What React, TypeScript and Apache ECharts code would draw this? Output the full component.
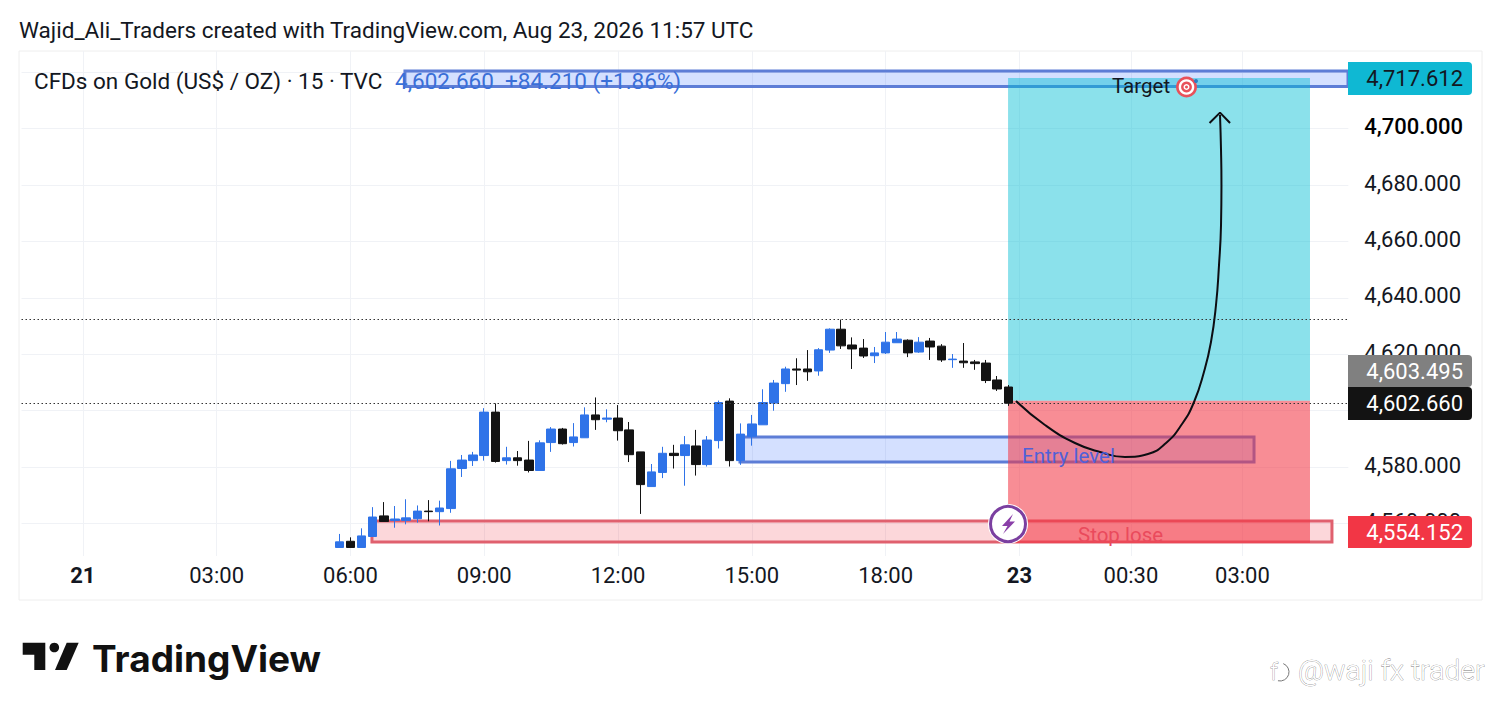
import React, { useEffect, useRef } from "react";
import * as echarts from "echarts";

const pad = (a: number[]) => a.map((v) => +(4000 + v).toFixed(2));
const opens = pad([551.5,553.7,551.5,555.4,562.7,561.1,561.1,561.7,564.4,564.2,565.3,579.5,582.3,584.1,599.5,582.3,583.3,582.5,578.8,588.7,593.5,588.7,590.4,598.5,597.0,597.4,593.2,585.4,573.1,578.1,584.9,584.1,587.5,580.9,589.4,603.4,582.3,590.9,595.0,602.7,609.6,614.8,614.8,614.1,621.5,628.9,623.3,622.2,619.5,620.5,624.1,625.0,620.8,624.7,622.9,618.1,617.6,617.3,616.9,610.9,608.4]);
const closes = pad([553.5,551.5,555.6,562.3,560.7,561.6,562.0,564.4,564.2,565.5,579.4,582.5,584.3,599.5,582.0,583.3,582.3,578.8,588.6,593.5,588.3,590.7,598.5,596.8,597.4,592.9,584.4,573.8,578.3,584.9,584.1,587.9,580.9,589.6,602.9,582.3,591.7,595.3,602.9,609.8,614.8,614.4,613.8,621.6,628.9,623.0,621.9,619.4,620.5,624.3,625.4,620.5,624.3,622.6,618.0,618.3,617.0,616.7,610.7,607.7,602.66]);
const lows = pad([551.5,551.5,551.5,555.4,560.7,558.5,559.7,560.3,560.8,559.3,563.8,576.5,580.4,582.3,581.6,580.9,580.5,578.1,578.8,585.4,588.0,587.3,590.4,593.2,595.9,589.4,581.8,563.4,573.1,576.1,579.5,573.4,577.0,580.2,586.6,580.2,580.8,587.6,595.0,600.0,606.7,609.1,610.6,612.4,620.5,621.9,614.8,618.7,616.9,620.1,624.1,619.0,620.5,618.0,617.3,615.2,615.2,614.5,609.8,607.0,601.7]);
const highs = pad([556.3,555.1,558.3,565.8,567.6,566.2,568.6,566.4,568.3,568.1,582.2,584.3,585.4,600.9,602.6,587.2,585.7,589.3,589.5,594.2,593.9,595.6,601.2,604.7,600.5,602.0,596.0,585.4,581.1,587.2,587.9,591.0,593.2,591.0,603.6,604.4,595.5,598.5,607.6,610.9,615.6,618.6,621.5,622.2,629.2,632.3,626.0,625.4,622.6,627.9,627.9,625.3,626.1,625.8,623.6,620.1,624.0,618.0,618.0,612.3,609.1]);

const leadingBars = 28;
const barCount = 119;
const timeTickIndex = [5, 17, 29, 41, 53, 65, 77, 89, 99, 109];
const timeTickLabels = ["21", "03:00", "06:00", "09:00", "12:00", "15:00", "18:00", "23", "00:30", "03:00"];
const boldTimes = ["21", "23"];
const priceTicks = [4560, 4580, 4600, 4620, 4640, 4660, 4680, 4700, 4720];
const priceLabels = [4560, 4580, 4620, 4640, 4660, 4680, 4700];

const targetBox = [[34.39, 118.97, 4720.46, 4714.95]];
const entryBox = [[64.44, 110.54, 4590.67, 4581.8]];
const stopBox = [[31.43, 117.53, 4560.9, 4553.4]];
const rewardZone = [[88.48, 115.56, 4717.98, 4603.495]];
const riskZone = [[88.48, 115.56, 4603.495, 4553.1]];

const curveBars = [89.19, 91.79, 94.48, 96.73, 98.97, 101.03, 102.65, 104.08, 105.16, 106.05, 106.68, 107.13, 107.4, 107.58, 107.62, 107.58, 107.49];
const curvePrices = [4603.44, 4594.93, 4588.55, 4585.36, 4583.59, 4584.65, 4588.55, 4595.28, 4603.09, 4613.73, 4624.36, 4637.48, 4651.67, 4665.85, 4680.04, 4692.45, 4704.86];
const arrowBars = [106.55, 107.49, 108.39];
const arrowPrices = [4702.0, 4705.7, 4702.0];

const dottedPrices = [4632.3, 4602.66];
const FONT = "Roboto";
const INK = "#131722";
const BOXBLUE = "#5d7dd6";

function zoneSeries(data: number[][], z: number, style: any) {
  return {
    type: "custom",
    xAxisIndex: 1,
    yAxisIndex: 0,
    z,
    silent: true,
    clip: false,
    data,
    encode: { x: [0, 1], y: [2, 3] },
    renderItem(_p: any, api: any) {
      const a = api.coord([api.value(0), api.value(2)]);
      const b = api.coord([api.value(1), api.value(3)]);
      return {
        type: "rect",
        shape: { x: a[0], y: a[1], width: b[0] - a[0], height: b[1] - a[1] },
        style,
      };
    },
  };
}

function tag(y: number, h: number, fill: string, text: string, color: string) {
  return [
    { type: "rect", z: 100, shape: { x: 1348, y, width: 124, height: h, r: [0, 4, 4, 0] }, style: { fill } },
    { type: "text", z: 101, x: 1463, y: y + h / 2, style: { text, fill: color, font: `22px ${FONT}`, align: "right", verticalAlign: "middle" } },
  ];
}

function label(x: number, y: number, text: string, fill: string, size = 22.5, z = 90) {
  return { type: "text", z, x, y, style: { text, fill, font: `${size}px ${FONT}`, verticalAlign: "middle" } };
}

export default function App() {
  const ref = useRef<HTMLDivElement>(null);
  useEffect(() => {
    const chart = echarts.init(ref.current!, null, { renderer: "svg" });
    const categories = Array.from({ length: barCount }, (_, i) => {
      const k = timeTickIndex.indexOf(i);
      return k >= 0 ? timeTickLabels[k] : " " + i;
    });
    const candles = [
      ...Array.from({ length: leadingBars }, () => ["-", "-", "-", "-"]),
      ...opens.map((o, i) => [o, closes[i], lows[i], highs[i]]),
    ];
    const isTick = (i: number) => timeTickIndex.includes(i);
    chart.setOption({
      animation: false,
      backgroundColor: "#ffffff",
      title: {
        text: "Wajid_Ali_Traders created with TradingView.com, Aug 23, 2026 11:57 UTC",
        left: 19,
        top: 18,
        padding: 0,
        textStyle: { fontFamily: FONT, fontSize: 22.5, fontWeight: 400, color: INK },
      },
      grid: { left: 21.5, top: 51, width: 1326.85, height: 505, containLabel: false },
      xAxis: [
        {
          type: "category",
          data: categories,
          boundaryGap: true,
          axisLine: { show: false },
          axisTick: { show: false },
          axisLabel: {
            interval: (i: number) => isTick(i),
            margin: 8,
            color: INK,
            fontFamily: FONT,
            fontSize: 22,
            hideOverlap: false,
            formatter: (v: string) => (boldTimes.includes(v) ? `{b|${v}}` : v),
            rich: { b: { fontFamily: FONT, fontSize: 22, fontWeight: 700, color: INK } },
          },
          splitLine: {
            show: true,
            alignWithLabel: true,
            interval: (i: number) => isTick(i),
            lineStyle: { color: "#f0f2f6", width: 1 },
          },
        },
        { type: "value", show: false, min: 0, max: barCount, splitLine: { show: false } },
      ],
      yAxis: {
        type: "value",
        position: "right",
        min: 4548.48,
        max: 4727.55,
        axisLine: { show: false },
        axisTick: { show: false, customValues: priceTicks },
        splitLine: { show: true, lineStyle: { color: "#f0f2f6", width: 1 } },
        axisLabel: {
          customValues: priceLabels,
          margin: 16,
          padding: [0, 0, 4, 0],
          color: INK,
          fontFamily: FONT,
          fontSize: 22,
          formatter: (v: number) => {
            const s = v.toLocaleString("en-US", { minimumFractionDigits: 3, maximumFractionDigits: 3 });
            return v === 4700 ? `{b|${s}}` : s;
          },
          rich: { b: { fontFamily: FONT, fontSize: 22, fontWeight: 500, color: "#000" } },
        },
      },
      series: [
        zoneSeries(targetBox, 1, { fill: "rgba(41,98,255,0.2)", stroke: BOXBLUE, lineWidth: 3 }),
        zoneSeries(entryBox, 1, { fill: "rgba(41,98,255,0.2)", stroke: BOXBLUE, lineWidth: 3 }),
        zoneSeries(stopBox, 1, { fill: "rgba(242,54,69,0.2)", stroke: "#e0606e", lineWidth: 3 }),
        zoneSeries(rewardZone, 2, { fill: "rgba(0,188,212,0.455)" }),
        zoneSeries(riskZone, 2, { fill: "rgba(242,54,69,0.57)" }),
        {
          type: "candlestick",
          xAxisIndex: 0,
          yAxisIndex: 0,
          z: 3,
          barWidth: 9,
          data: candles,
          itemStyle: { color: "#2f73e8", color0: "#131313", borderColor: "#2f73e8", borderColor0: "#131313", borderWidth: 1 },
          markLine: {
            silent: true,
            symbol: "none",
            label: { show: false },
            lineStyle: { type: [1.5, 2.5], color: "#333", width: 1 },
            data: dottedPrices.map((yAxis) => ({ yAxis })),
          },
        },
        {
          type: "line",
          xAxisIndex: 1,
          yAxisIndex: 0,
          z: 5,
          smooth: 0.5,
          showSymbol: false,
          silent: true,
          lineStyle: { color: "#0d0d12", width: 2 },
          data: curveBars.map((b, i) => [b, curvePrices[i]]),
        },
        {
          type: "line",
          xAxisIndex: 1,
          yAxisIndex: 0,
          z: 5,
          showSymbol: false,
          silent: true,
          lineStyle: { color: "#0d0d12", width: 2 },
          data: arrowBars.map((b, i) => [b, arrowPrices[i]]),
        },
      ],
      graphic: [
        { type: "rect", z: 0, shape: { x: 19, y: 51, width: 1463, height: 549 }, style: { fill: "none", stroke: "#eeeeee", lineWidth: 1 } },
        label(34, 81, "CFDs on Gold (US$ / OZ) · 15 · TVC", INK),
        label(395, 81, "4,602.660  +84.210 (+1.86%)", "#3a6fd8"),
        label(1112, 86, "Target", INK, 20.5),
        { type: "circle", z: 91, shape: { cx: 1186.5, cy: 87, r: 10.5 }, style: { fill: "#e8515a" } },
        { type: "circle", z: 91, shape: { cx: 1186.5, cy: 87, r: 7.8 }, style: { fill: "#fff" } },
        { type: "circle", z: 91, shape: { cx: 1186.5, cy: 87, r: 5.4 }, style: { fill: "#e8515a" } },
        { type: "circle", z: 91, shape: { cx: 1186.5, cy: 87, r: 3 }, style: { fill: "#fff" } },
        { type: "circle", z: 91, shape: { cx: 1186.5, cy: 87, r: 1.5 }, style: { fill: "#e8515a" } },
        { type: "circle", z: 91, shape: { cx: 1196, cy: 81, r: 2 }, style: { fill: "#2d7fc4" } },
        label(1022, 456, "Entry level", "#5060d8", 20.5),
        label(1078, 535, "Stop lose", "#ea4a5c", 20.5),
        { type: "circle", z: 92, shape: { cx: 1008, cy: 524, r: 20 }, style: { fill: "#fff" } },
        { type: "circle", z: 92, shape: { cx: 1008, cy: 524, r: 17.5 }, style: { fill: "#fff", stroke: "#7b3fa0", lineWidth: 3 } },
        { type: "polygon", z: 93, shape: { points: [[1013, 514], [1002, 526], [1007.5, 526], [1003, 534], [1015, 521.5], [1009.5, 521.5]] }, style: { fill: "#8a3fa8" } },
        ...tag(62, 33, "#0fb8d3", "4,717.612", INK),
        ...tag(355, 32, "#808080", "4,603.495", "#fff"),
        ...tag(387, 33, "#131313", "4,602.660", "#fff"),
        ...tag(516, 32, "#f23645", "4,554.152", "#fff"),
        { type: "polygon", z: 90, shape: { points: [[22.7, 642.7], [45.3, 642.7], [45.3, 670], [34.3, 670], [34.3, 654.7], [22.7, 654.7]] }, style: { fill: "#111" } },
        { type: "circle", z: 90, shape: { cx: 54.3, cy: 647.5, r: 4.8 }, style: { fill: "#111" } },
        { type: "polygon", z: 90, shape: { points: [[66.7, 642.7], [78.7, 642.7], [66.7, 670], [55, 670]] }, style: { fill: "#111" } },
        { type: "text", z: 90, x: 92, y: 658, style: { text: "TradingView", fill: "#111", font: `700 37px Inter`, verticalAlign: "middle" } },
        { type: "text", z: 90, x: 1298, y: 670, style: { text: "@waji fx trader", fill: "#fff", stroke: "#777", lineWidth: 0.6, font: `300 28.5px ${FONT}`, verticalAlign: "middle" } },
        { type: "arc", z: 90, shape: { cx: 1280, cy: 672, r: 9, startAngle: -1.2, endAngle: 1.8 }, style: { stroke: "#777", fill: "none", lineWidth: 1 } },
        { type: "text", z: 90, x: 1270, y: 672, style: { text: "f", fill: "#fff", stroke: "#777", lineWidth: 0.6, font: `300 24px ${FONT}`, verticalAlign: "middle" } },
      ],
    });
    return () => chart.dispose();
  }, []);
  return <div ref={ref} style={{ position: "fixed", left: 0, top: 0, width: 1501, height: 714, background: "#fff" }} />;
}
